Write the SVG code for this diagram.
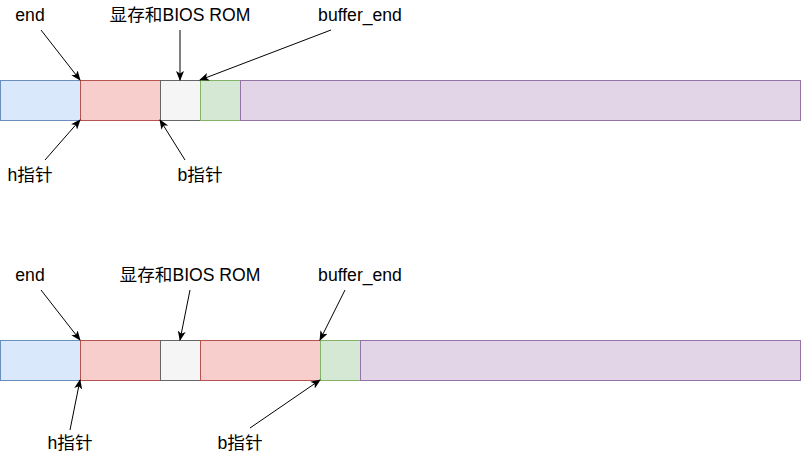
<svg xmlns="http://www.w3.org/2000/svg" width="802" height="462" viewBox="0 0 802 462">
<style>
.blue{fill:#dae8fc;stroke:#6c8ebf}
.red{fill:#f8cecc;stroke:#b85450}
.gray{fill:#f5f5f5;stroke:#666666}
.green{fill:#d5e8d4;stroke:#82b366}
.purple{fill:#e1d5e7;stroke:#9673a6}
rect{stroke-width:1}
.lbl{font-family:"Liberation Sans","Noto Sans CJK SC",Arial,sans-serif;font-size:17.6px;fill:#000;text-anchor:middle}
.conn line{stroke:#000;stroke-width:1;fill:none;marker-end:url(#arr)}
</style>
<defs>
<marker id="arr" viewBox="0 0 10 10" refX="9" refY="5" markerWidth="10" markerHeight="10" markerUnits="userSpaceOnUse" orient="auto">
<path d="M0,1 L10,5 L0,9 L2.5,5 Z" fill="#000"/>
</marker>
</defs>
<g id="row1">
<g id="r1-blue"><rect class="blue" x="0.5" y="80.5" width="80" height="40"/></g>
<g id="r1-red"><rect class="red" x="80.5" y="80.5" width="80" height="40"/></g>
<g id="r1-gray"><rect class="gray" x="160.5" y="80.5" width="40" height="40"/></g>
<g id="r1-green"><rect class="green" x="200.5" y="80.5" width="40" height="40"/></g>
<g id="r1-purple"><rect class="purple" x="240.5" y="80.5" width="560" height="40"/></g>
</g>
<g id="row2">
<g id="r2-blue"><rect class="blue" x="0.5" y="340.5" width="80" height="40"/></g>
<g id="r2-red1"><rect class="red" x="80.5" y="340.5" width="80" height="40"/></g>
<g id="r2-gray"><rect class="gray" x="160.5" y="340.5" width="40" height="40"/></g>
<g id="r2-red2"><rect class="red" x="200.5" y="340.5" width="120" height="40"/></g>
<g id="r2-green"><rect class="green" x="320.5" y="340.5" width="40" height="40"/></g>
<g id="r2-purple"><rect class="purple" x="360.5" y="340.5" width="440" height="40"/></g>
</g>
<g id="labels">
<g id="t1-end"><text class="lbl" x="30" y="21">end</text></g>
<g id="t1-bios"><text class="lbl" x="180" y="21">显存和BIOS ROM</text></g>
<g id="t1-buf"><text class="lbl" x="360" y="21">buffer_end</text></g>
<g id="t1-h"><text class="lbl" x="30" y="181">h指针</text></g>
<g id="t1-b"><text class="lbl" x="200" y="181">b指针</text></g>
<g id="t2-end"><text class="lbl" x="30" y="281">end</text></g>
<g id="t2-bios"><text class="lbl" x="190" y="281">显存和BIOS ROM</text></g>
<g id="t2-buf"><text class="lbl" x="360" y="281">buffer_end</text></g>
<g id="t2-h"><text class="lbl" x="70" y="449">h指针</text></g>
<g id="t2-b"><text class="lbl" x="240" y="449">b指针</text></g>
</g>
<g id="connectors" class="conn">
<line x1="41" y1="30" x2="80" y2="80"/>
<line x1="180" y1="30" x2="180" y2="80"/>
<line x1="331" y1="30" x2="200" y2="80"/>
<line x1="45" y1="160" x2="80" y2="120"/>
<line x1="185" y1="160" x2="160" y2="120"/>
<line x1="41" y1="290" x2="80" y2="340"/>
<line x1="190" y1="290" x2="180" y2="340"/>
<line x1="345" y1="290" x2="320" y2="340"/>
<line x1="70" y1="430" x2="80" y2="380"/>
<line x1="250" y1="428" x2="320" y2="380"/>
</g>
</svg>
